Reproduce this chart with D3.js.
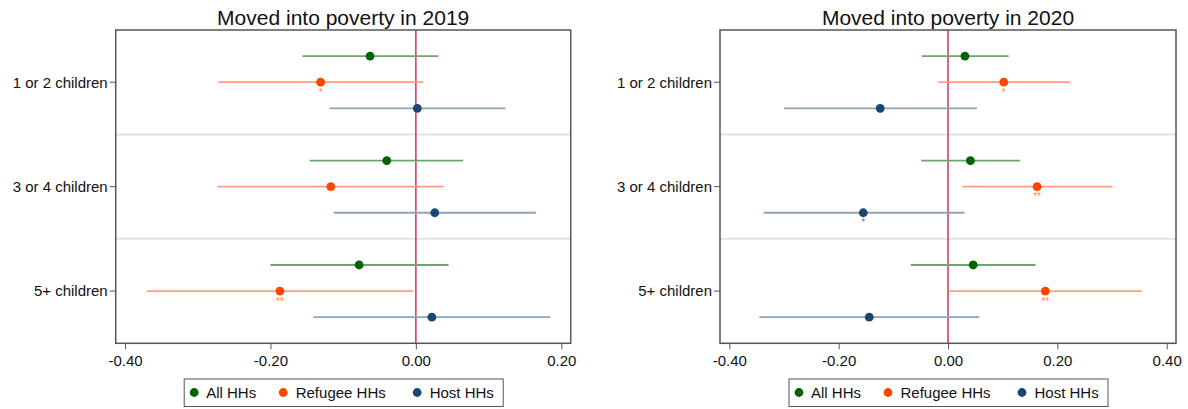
<!DOCTYPE html>
<html>
<head>
<meta charset="utf-8">
<script src="https://cdn.jsdelivr.net/npm/d3@7/dist/d3.min.js"></script>
<style>
  html, body { margin: 0; padding: 0; background: #fff; }
  svg { display: block; font-family: "Liberation Sans", Arial, sans-serif; }
</style>
</head>
<body>
<svg id="chart" width="1188" height="409"></svg>
<script>
// Household-size groups (rows) and household types (series)
const categories = ["1 or 2 children", "3 or 4 children", "5+ children"];
const seriesNames = ["All HHs", "Refugee HHs", "Host HHs"];
const seriesColors = ["#006400", "#ff4500", "#1a476f"];
const ciColors = ["#6fa46f", "#ff9e80", "#8ea4b8"];

// Point estimates and 95% CI bounds; rows = categories, columns = series
const coef2019 = [[-0.063, -0.131, 0.002], [-0.040, -0.117, 0.026], [-0.078, -0.187, 0.022]];
const lo2019   = [[-0.156, -0.272, -0.119], [-0.146, -0.273, -0.113], [-0.200, -0.370, -0.141]];
const hi2019   = [[0.031, 0.010, 0.123], [0.065, 0.038, 0.165], [0.045, -0.004, 0.185]];
const stars2019 = [["", "*", ""], ["", "", ""], ["", "**", ""]];

const coef2020 = [[0.031, 0.102, -0.124], [0.041, 0.163, -0.155], [0.046, 0.178, -0.144]];
const lo2020   = [[-0.048, -0.018, -0.300], [-0.049, 0.026, -0.337], [-0.068, 0.002, -0.345]];
const hi2020   = [[0.111, 0.223, 0.053], [0.132, 0.301, 0.030], [0.160, 0.354, 0.057]];
const stars2020 = [["", "*", ""], ["", "**", "*"], ["", "**", ""]];

const ticks2019 = [-0.4, -0.2, 0.0, 0.2];
const ticks2020 = [-0.4, -0.2, 0.0, 0.2, 0.4];

const fmt = d3.formatLocale({decimal: ".", thousands: ",", grouping: [3], currency: ["", ""], minus: "-"}).format(".2f");

const svg = d3.select("#chart");
const frameColor = "#555";

const panels = [
  { title: "Moved into poverty in 2019", coef: coef2019, lo: lo2019, hi: hi2019, stars: stars2019,
    ticks: ticks2019, left: 115.7, right: 570.7, tickPx: [125, 561.3], domain: [-0.4, 0.2] },
  { title: "Moved into poverty in 2020", coef: coef2020, lo: lo2020, hi: hi2020, stars: stars2020,
    ticks: ticks2020, left: 720, right: 1176, tickPx: [729.3, 1166.7], domain: [-0.4, 0.4] }
];

const plotTop = 30, plotBottom = 343.3;

panels.forEach(p => {
  const g = svg.append("g");
  const x = d3.scaleLinear().domain(p.domain).range(p.tickPx);
  const y = d3.scaleBand().domain(categories).range([plotTop, plotBottom]).padding(0);
  const inner = d3.scalePoint().domain(seriesNames).range([y.bandwidth() * 0.25, y.bandwidth() * 0.75]);
  const cx = (p.left + p.right) / 2;

  // title
  g.append("text").attr("x", cx).attr("y", 24.5).attr("text-anchor", "middle")
    .attr("font-size", 21).attr("fill", "#111").text(p.title);

  // separators between groups
  categories.slice(1).forEach(c => {
    g.append("line").attr("x1", p.left).attr("x2", p.right)
      .attr("y1", y(c)).attr("y2", y(c))
      .attr("stroke", "#e3e3e3").attr("stroke-width", 2);
  });

  // zero reference line
  g.append("line").attr("x1", x(0)).attr("x2", x(0)).attr("y1", plotTop).attr("y2", plotBottom)
    .attr("stroke", "#cf3560").attr("stroke-width", 1.5);

  // confidence intervals, points and significance stars
  categories.forEach((c, i) => {
    seriesNames.forEach((s, j) => {
      const yy = y(c) + inner(s);
      g.append("line").attr("x1", x(p.lo[i][j])).attr("x2", x(p.hi[i][j]))
        .attr("y1", yy).attr("y2", yy)
        .attr("stroke", ciColors[j]).attr("stroke-width", 1.8);
      g.append("circle").attr("cx", x(p.coef[i][j])).attr("cy", yy).attr("r", 4.4)
        .attr("fill", seriesColors[j]);
      if (p.stars[i][j]) {
        g.append("text").attr("x", x(p.coef[i][j])).attr("y", yy + 13.5)
          .attr("text-anchor", "middle").attr("font-size", 10)
          .attr("fill", seriesColors[j]).attr("fill-opacity", 0.7).text(p.stars[i][j]);
      }
    });
  });

  // plot frame
  g.append("rect").attr("x", p.left).attr("y", plotTop)
    .attr("width", p.right - p.left).attr("height", plotBottom - plotTop)
    .attr("fill", "none").attr("stroke", frameColor).attr("stroke-width", 1.5);

  // y axis labels
  categories.forEach(c => {
    const yy = y(c) + y.bandwidth() / 2;
    g.append("line").attr("x1", p.left - 6).attr("x2", p.left).attr("y1", yy).attr("y2", yy)
      .attr("stroke", frameColor).attr("stroke-width", 1);
    g.append("text").attr("x", p.left - 8).attr("y", yy + 5.3).attr("text-anchor", "end")
      .attr("font-size", 15).attr("fill", "#111").text(c);
  });

  // x axis
  const xAxis = d3.axisBottom(x).tickValues(p.ticks).tickFormat(fmt).tickSize(6).tickPadding(6);
  const ax = g.append("g").attr("transform", `translate(0,${plotBottom})`).call(xAxis);
  ax.select(".domain").remove();
  ax.selectAll(".tick line").attr("stroke", frameColor);
  ax.selectAll(".tick text").attr("font-size", 15).attr("fill", "#111")
    .attr("font-family", "Liberation Sans, Arial, sans-serif");

  // legend
  const lx = cx - 159, ly = 379;
  const lg = g.append("g").attr("transform", `translate(${lx},${ly})`);
  lg.append("rect").attr("width", 319).attr("height", 27.5).attr("fill", "#fff")
    .attr("stroke", frameColor).attr("stroke-width", 1);
  const dotX = [10, 99, 233], textX = [22, 111.5, 245.5];
  seriesNames.forEach((s, j) => {
    lg.append("circle").attr("cx", dotX[j]).attr("cy", 13.5).attr("r", 4.4).attr("fill", seriesColors[j]);
    lg.append("text").attr("x", textX[j]).attr("y", 19).attr("font-size", 15).attr("fill", "#111").text(s);
  });
});
</script>
</body>
</html>
